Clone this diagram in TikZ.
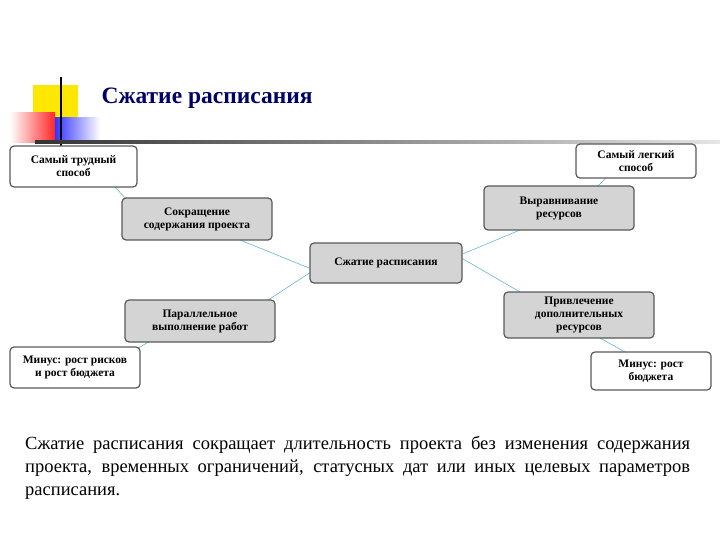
\documentclass[tikz,border=0pt]{standalone}
\usepackage{fontspec}
\setmainfont{Liberation Serif}
\begin{document}
\begin{tikzpicture}[x=1pt,y=-1pt,
  box/.style={draw=black!65,line width=1.2pt,rounded corners=4pt,align=center,font=\bfseries\fontsize{11.5}{13}\selectfont,inner sep=1pt},
  wbox/.style={box,fill=white},
  gbox/.style={box,fill=black!17},
  link/.style={draw=cyan!60!teal!70,line width=0.6pt}]
\useasboundingbox (0,0) rectangle (720,540);
% decoration
\fill[yellow!90!orange] (33,85) rectangle (78,120);
\shade[left color=white,right color=red!85] (10,113) rectangle (55,143);
\shade[left color=blue!80,right color=white] (55,118) rectangle (100,140);
\draw[line width=2pt] (61,77) -- (61,146);
\shade[left color=black!80,right color=black!10] (35,141) rectangle (720,143.5);
\node[anchor=west,font=\bfseries\fontsize{23.5}{25}\selectfont,text=blue!40!black] (title) at (98,98) {Сжатие расписания};
% links
\coordinate (c1) at (314,270);
\coordinate (c2) at (458,256);
\draw[link] (115,187) -- (126,199);
\draw[link] (240,240) -- (c1);
\draw[link] (c2) -- (520,230);
\draw[link] (c2) -- (520,292);
\draw[link] (598,186) -- (606,178);
\draw[link] (600,338) -- (625,352);
\draw[link] (c1) -- (265,302);
\draw[link] (150,341) -- (135,350);
% nodes
\node[wbox,minimum width=127pt,minimum height=41pt] (hard) at (73.5,166.5) {Самый трудный\\способ};
\node[wbox,minimum width=120pt,minimum height=34pt] (easy) at (636,161) {Самый легкий\\способ};
\node[gbox,minimum width=150pt,minimum height=42pt] (scope) at (197,219) {Сокращение\\содержания проекта};
\node[gbox,minimum width=150pt,minimum height=44pt] (level) at (559,208) {Выравнивание\\ресурсов};
\node[gbox,minimum width=152pt,minimum height=40pt] (center) at (386,263) {Сжатие расписания};
\node[gbox,minimum width=150pt,minimum height=42pt] (par) at (200,321) {Параллельное\\выполнение работ};
\node[gbox,minimum width=150pt,minimum height=46pt] (res) at (579,315) {Привлечение\\дополнительных\\ресурсов};
\node[wbox,minimum width=130pt,minimum height=41pt] (mrisk) at (75,367.5) {Минус: рост рисков\\и рост бюджета};
\node[wbox,minimum width=120pt,minimum height=38pt] (mbud) at (651,371) {Минус: рост\\бюджета};
% text
\node[anchor=north west,text width=665pt,align=justify,font=\fontsize{18.5}{23}\selectfont,inner sep=0pt] (txt) at (25,436)
{Сжатие расписания сокращает длительность проекта без изменения содержания проекта, временных ограничений, статусных дат или иных целевых параметров расписания.};
\end{tikzpicture}
\end{document}
